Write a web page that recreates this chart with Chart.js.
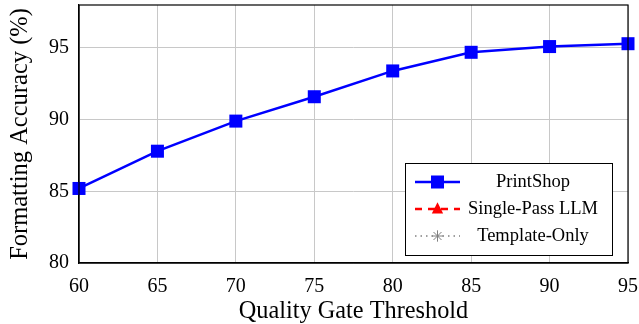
<!DOCTYPE html>
<html>
<head>
<meta charset="utf-8">
<script src="https://cdn.jsdelivr.net/npm/chart.js@4.4.0/dist/chart.umd.min.js"></script>
<style>
  html, body { margin: 0; padding: 0; background: #fff; }
</style>
</head>
<body>
<canvas id="accChart" width="639" height="324"></canvas>
<script>
// data
const thresholds = [60, 65, 70, 75, 80, 85, 90, 95];
const printShopAcc = [85.2, 87.8, 89.9, 91.6, 93.4, 94.7, 95.1, 95.3];
const singlePassAcc = [];   // listed in the legend only, no marks inside the plot
const templateOnlyAcc = [];
const seriesNames = ['PrintShop', 'Single-Pass LLM', 'Template-Only'];
const yTicks = [80, 85, 90, 95];

const serif = "'Liberation Serif', 'DejaVu Serif', serif";

function toPoints(xs, ys) {
    return ys.map((y, i) => ({ x: xs[i], y: y }));
}

// pgfplots style legend box inside the plot, bottom right
const boxLegend = {
    id: 'boxLegend',
    afterDraw(chart) {
        const ctx = chart.ctx;
        const area = chart.chartArea;
        const w = 207, h = 92;
        const x0 = area.right - 16 - w;
        const y0 = area.bottom - 8 - h;
        ctx.save();
        ctx.fillStyle = '#fff';
        ctx.fillRect(x0, y0, w, h);
        ctx.strokeStyle = '#000';
        ctx.lineWidth = 1;
        ctx.strokeRect(x0 + 0.5, y0 + 0.5, w, h);

        chart.data.datasets.forEach((ds, i) => {
            const cy = y0 + 19 + i * 27;
            const lx1 = x0 + 10, lx2 = x0 + 55, mx = (lx1 + lx2) / 2;
            ctx.strokeStyle = ds.borderColor;
            ctx.lineWidth = ds.borderWidth;
            ctx.setLineDash(ds.borderDash || []);
            ctx.beginPath();
            ctx.moveTo(lx1, cy);
            ctx.lineTo(lx2, cy);
            ctx.stroke();
            ctx.setLineDash([]);
            ctx.fillStyle = ds.pointBackgroundColor;
            ctx.strokeStyle = ds.pointBorderColor;
            const r = ds.pointRadius * Math.SQRT1_2;
            if (ds.pointStyle === 'rect') {
                ctx.fillRect(mx - r, cy - r, 2 * r, 2 * r);
            } else if (ds.pointStyle === 'triangle') {
                ctx.beginPath();
                ctx.moveTo(mx, cy - r * 1.2);
                ctx.lineTo(mx + r, cy + r * 0.8);
                ctx.lineTo(mx - r, cy + r * 0.8);
                ctx.closePath();
                ctx.fill();
            } else {
                ctx.lineWidth = 1;
                ctx.beginPath();
                for (let k = 0; k < 4; k++) {
                    const a = k * Math.PI / 4;
                    ctx.moveTo(mx - r * Math.cos(a), cy - r * Math.sin(a));
                    ctx.lineTo(mx + r * Math.cos(a), cy + r * Math.sin(a));
                }
                ctx.stroke();
            }
            ctx.fillStyle = '#000';
            ctx.font = '18.5px ' + serif;
            ctx.textAlign = 'center';
            ctx.textBaseline = 'middle';
            ctx.fillText(ds.label, x0 + 128, cy);
        });
        ctx.restore();
    }
};

document.addEventListener('DOMContentLoaded', function () {
    const ctx = document.getElementById('accChart').getContext('2d');

    const config = {
        type: 'line',
        data: {
            datasets: [{
                label: seriesNames[0],
                data: toPoints(thresholds, printShopAcc),
                borderColor: '#0000ff',
                backgroundColor: '#0000ff',
                pointBackgroundColor: '#0000ff',
                pointBorderColor: '#0000ff',
                borderWidth: 2.5,
                pointStyle: 'rect',
                pointRadius: 9.2,
                pointBorderWidth: 0,
                tension: 0,
                clip: false
            }, {
                label: seriesNames[1],
                data: toPoints(thresholds, singlePassAcc),
                borderColor: '#ff0000',
                pointBackgroundColor: '#ff0000',
                pointBorderColor: '#ff0000',
                borderWidth: 2.5,
                borderDash: [7, 6],
                pointStyle: 'triangle',
                pointRadius: 8
            }, {
                label: seriesNames[2],
                data: toPoints(thresholds, templateOnlyAcc),
                borderColor: '#808080',
                pointBackgroundColor: '#808080',
                pointBorderColor: '#808080',
                borderWidth: 1.5,
                borderDash: [1.5, 4],
                pointStyle: 'star',
                pointRadius: 8
            }]
        },
        options: {
            responsive: false,
            animation: false,
            layout: { autoPadding: false, padding: { top: 5, right: 11, left: 0, bottom: 0 } },
            plugins: {
                legend: { display: false },
                tooltip: { enabled: false }
            },
            scales: {
                x: {
                    type: 'linear',
                    min: 60,
                    max: 95,
                    afterBuildTicks: s => { s.ticks = thresholds.map(v => ({ value: v })); },
                    afterFit: s => { s.height = 61; s.paddingLeft = 0; s.paddingRight = 0; },
                    grid: { color: '#c8c8c8', drawTicks: false },
                    border: { color: '#000', width: 1.2 },
                    ticks: { color: '#000', padding: 12, font: { family: serif, size: 20 } },
                    title: {
                        display: true,
                        text: 'Quality Gate Threshold',
                        color: '#000',
                        font: { family: serif, size: 24.3, lineHeight: 1.0 },
                        padding: { top: 12, bottom: 0 }
                    }
                },
                y: {
                    min: 80,
                    max: 98,
                    afterBuildTicks: s => { s.ticks = yTicks.map(v => ({ value: v })); },
                    afterFit: s => { s.width = 79; s.paddingTop = 0; s.paddingBottom = 0; },
                    grid: { color: '#c8c8c8', drawTicks: false },
                    border: { color: '#000', width: 1.2 },
                    ticks: { color: '#000', padding: 10, font: { family: serif, size: 20 } },
                    title: {
                        display: true,
                        text: 'Formatting Accuracy (%)',
                        color: '#000',
                        font: { family: serif, size: 24.5 },
                        padding: { top: 6, bottom: 0 }
                    }
                }
            }
        },
        plugins: [boxLegend, {
            id: 'frame',
            afterDraw(chart) {
                const a = chart.chartArea, c = chart.ctx;
                c.save();
                c.strokeStyle = '#000';
                c.lineWidth = 1.2;
                c.strokeRect(a.left, a.top, a.right - a.left, a.bottom - a.top);
                c.restore();
            }
        }]
    };

    window.accChart = new Chart(ctx, config);
});
</script>
</body>
</html>
